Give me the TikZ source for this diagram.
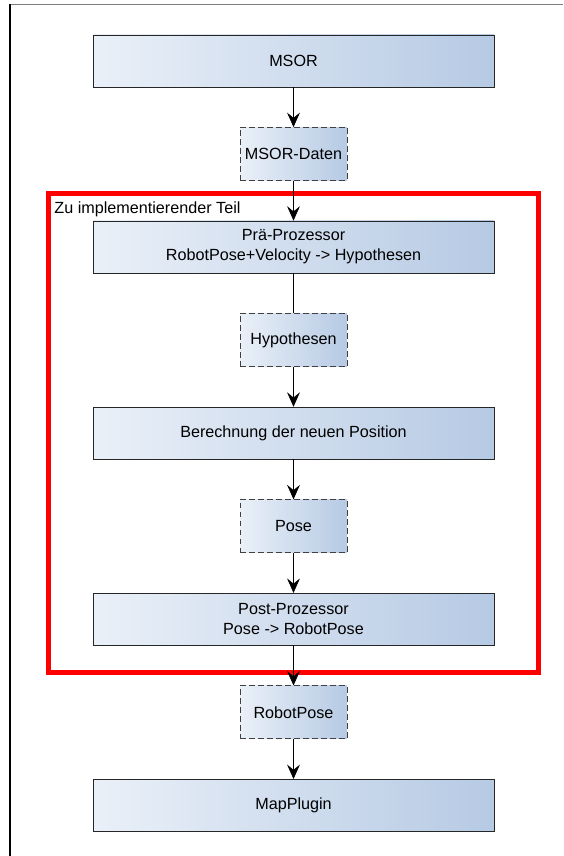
\documentclass[tikz,border=0pt]{standalone}
\usepackage{fontspec}
\setmainfont{Liberation Sans}
\usetikzlibrary{positioning,arrows.meta,fit}

\definecolor{boxleft}{RGB}{234,240,248}
\definecolor{boxright}{RGB}{182,202,228}
\definecolor{edgegray}{RGB}{125,125,125}

\begin{document}
\begin{tikzpicture}[
  font=\fontsize{11.5}{14.2}\selectfont,
  stage/.style={draw=black!85, left color=boxleft, right color=boxright,
                minimum width=10.025cm, minimum height=1.3cm, inner sep=0pt,
                align=center},
  data/.style={stage, draw=black!75, dash pattern=on 4.2pt off 2.2pt,
               minimum width=2.675cm, minimum height=1.325cm},
  flow/.style={-{Stealth[length=3.6mm, width=3.2mm, inset=1.3mm]}},
  plain/.style={thin},
  impl/.style={draw=red, line width=3.6pt, inner xsep=1.1cm, inner ysep=0.675cm},
  node distance=1.0cm,
]
  \useasboundingbox (0,0) rectangle (14.075,-21.4);

  % edge of the window
  \coordinate (c0) at (0.25,-0.11);
  \coordinate (c1) at (14.075,-0.11);
  \coordinate (c2) at (0.25,-21.4);
  \draw[edgegray, line width=1.1pt] (c0) -- (c1);
  \draw[black, line width=0.9pt] (c0) -- (c2);

  % Processing chain
  \node[stage] (msor) at (7.3375,-1.52) {MSOR};
  \node[data, below=of msor]  (msordata) {MSOR-Daten};
  \node[stage, below=of msordata] (pre) {Prä-Prozessor\\RobotPose+Velocity -> Hypothesen};
  \node[data, below=of pre]   (hyp)  {Hypothesen};
  \node[stage, below=of hyp]  (calc) {Berechnung der neuen Position};
  \node[data, below=of calc]  (pose) {Pose};
  \node[stage, below=of pose] (post) {Post-Prozessor\\Pose -> RobotPose};
  \node[data, below=of post]  (robot) {RobotPose};
  \node[stage, below=of robot] (map) {MapPlugin};

  % Part to be implemented
  \node[impl, fit=(pre)(post)] (part) {};
  \node[anchor=base west, inner sep=0pt]
    at ([xshift=0.2cm, yshift=-0.57cm]part.north west) (partlbl) {Zu implementierender Teil};

  % Connectors
  \draw[flow]  (msor) -- (msordata);
  \draw[flow]  (msordata) -- (pre);
  \draw[plain] (pre) -- (hyp);
  \draw[flow]  (hyp) -- (calc);
  \draw[flow]  (calc) -- (pose);
  \draw[flow]  (pose) -- (post);
  \draw[flow]  (post) -- (robot);
  \draw[flow]  (robot) -- (map);
\end{tikzpicture}
\end{document}
